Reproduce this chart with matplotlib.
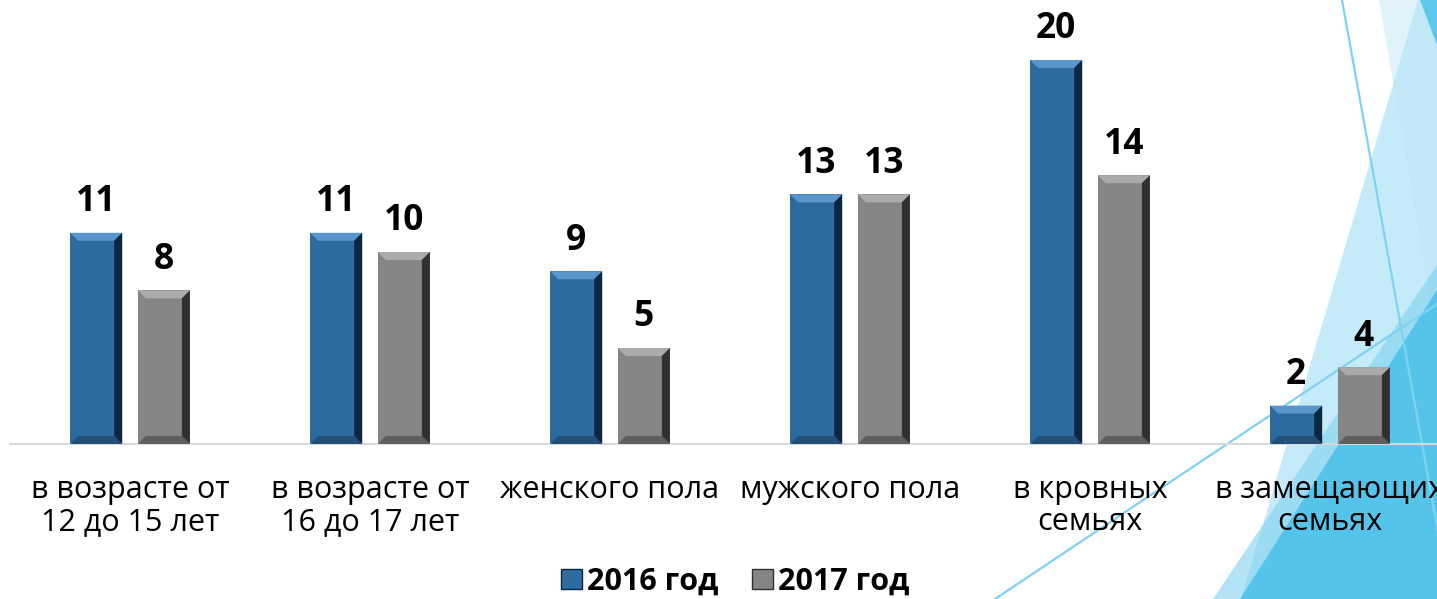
import matplotlib
matplotlib.use("Agg")
import matplotlib.pyplot as plt
from matplotlib.patches import Polygon, Patch
import numpy as np

categories = ["в возрасте от\n12 до 15 лет", "в возрасте от\n16 до 17 лет", "женского пола",
              "мужского пола", "в кровных\nсемьях", "в замещающих\nсемьях"]
series_names = ["2016 год", "2017 год"]
values_2016 = [11, 11, 9, 13, 20, 2]
values_2017 = [8, 10, 5, 13, 14, 4]

W, H = 1437, 599
fig = plt.figure(figsize=(W / 100, H / 100), dpi=100)
fig.patch.set_facecolor("white")

# decorative background (slide theme)
bg = fig.add_axes([0, 0, 1, 1], zorder=0)
bg.set_xlim(0, W)
bg.set_ylim(H, 0)
bg.axis("off")
bg.add_patch(Polygon([(1379, 0), (1500, 0), (1500, 599), (1482, 599)], closed=True,
                     facecolor="#D9F1FA", edgecolor="none", alpha=0.8))
bg.add_patch(Polygon([(1418, 0), (1500, 0), (1500, 599), (1241, 599)], closed=True,
                     facecolor="#B8E6F7", edgecolor="none", alpha=0.8))
bg.add_patch(Polygon([(1213, 599), (1437, 265), (1437, 599)], closed=True,
                     facecolor="#7FD2EF", edgecolor="none", alpha=0.6))
bg.add_patch(Polygon([(1240, 599), (1437, 290), (1437, 599)], closed=True,
                     facecolor="#55C4EA", edgecolor="none"))
bg.add_patch(Polygon([(1420, 0), (1437, 0), (1437, 45)], closed=True,
                     facecolor="#5CC8EE", edgecolor="none"))
bg.plot([1342, 1450], [0, 599], color="#7FD3F0", lw=1.6)
bg.plot([995, 1437], [599, 304], color="#7FD3F0", lw=1.6)

# main axes
ax_left, ax_bottom = 10 / W, (H - 444) / H
ax_w, ax_h = 1440 / W, 424 / H
ax = fig.add_axes([ax_left, ax_bottom, ax_w, ax_h], zorder=1)
ax.patch.set_alpha(0)
x = np.arange(len(categories))
ax.set_xlim(-0.5, len(categories) - 0.5)
ymax = 424 / 19.2
ax.set_ylim(0, ymax)

bw = 0.217
off = 0.141
colors = {"2016": ("#2D6A9F", "#5A96CB", "#0E2740", "#244F78"),
          "2017": ("#858585", "#ABABAB", "#303030", "#5E5E5E")}
b1 = ax.bar(x - off, values_2016, width=bw, color=colors["2016"][0], zorder=2)
b2 = ax.bar(x + off, values_2017, width=bw, color=colors["2017"][0], zorder=2)

px_x = W * ax_w / (len(categories))   # pixels per x-unit
px_y = H * ax_h / ymax               # pixels per y-unit
bx, by = 8 / px_x, 8 / px_y

def bevel(bars, cols):
    base, light, dark, mid = cols
    for p in bars:
        x0, y0 = p.get_x(), p.get_y()
        x1, y1 = x0 + p.get_width(), y0 + p.get_height()
        b_y = min(by, (y1 - y0) / 3)
        ax.add_patch(Polygon([(x0, y1), (x1, y1), (x1 - bx, y1 - b_y), (x0 + bx, y1 - b_y)],
                             facecolor=light, edgecolor="none", zorder=3))
        ax.add_patch(Polygon([(x1, y1), (x1, y0), (x1 - bx, y0 + b_y), (x1 - bx, y1 - b_y)],
                             facecolor=dark, edgecolor="none", zorder=3))
        ax.add_patch(Polygon([(x0, y0), (x1, y0), (x1 - bx, y0 + b_y), (x0 + bx, y0 + b_y)],
                             facecolor=mid, edgecolor="none", zorder=3))

bevel(b1, colors["2016"])
bevel(b2, colors["2017"])

font = "Open Sans"
for bars, vals in ((b1, values_2016), (b2, values_2017)):
    for p, v in zip(bars, vals):
        ax.annotate(str(v), (p.get_x() + p.get_width() / 2, v), xytext=(0, 9),
                    textcoords="offset points", ha="center", va="bottom",
                    fontsize=25.5, fontweight="bold", family=font, color="black")

for s in ["top", "right", "left"]:
    ax.spines[s].set_visible(False)
ax.spines["bottom"].set_color("#D9D9D9")
ax.spines["bottom"].set_linewidth(1.5)
ax.set_yticks([])
ax.set_xticks(x)
ax.set_xticklabels(categories, fontsize=22, family=font, linespacing=1.12)
ax.tick_params(axis="x", length=0, pad=22)

handles = [Patch(facecolor=colors["2016"][0], edgecolor=colors["2016"][2], label=series_names[0]),
           Patch(facecolor=colors["2017"][0], edgecolor=colors["2017"][2], label=series_names[1])]
leg = fig.legend(handles=handles, loc="center", bbox_to_anchor=(735 / W, 1 - 582 / H), ncol=2,
                 frameon=False, prop={"family": font, "weight": "bold", "size": 22},
                 handlelength=0.7, handleheight=0.65, handletextpad=0.15, columnspacing=1.1)

fig.savefig("out.png", dpi=100)
